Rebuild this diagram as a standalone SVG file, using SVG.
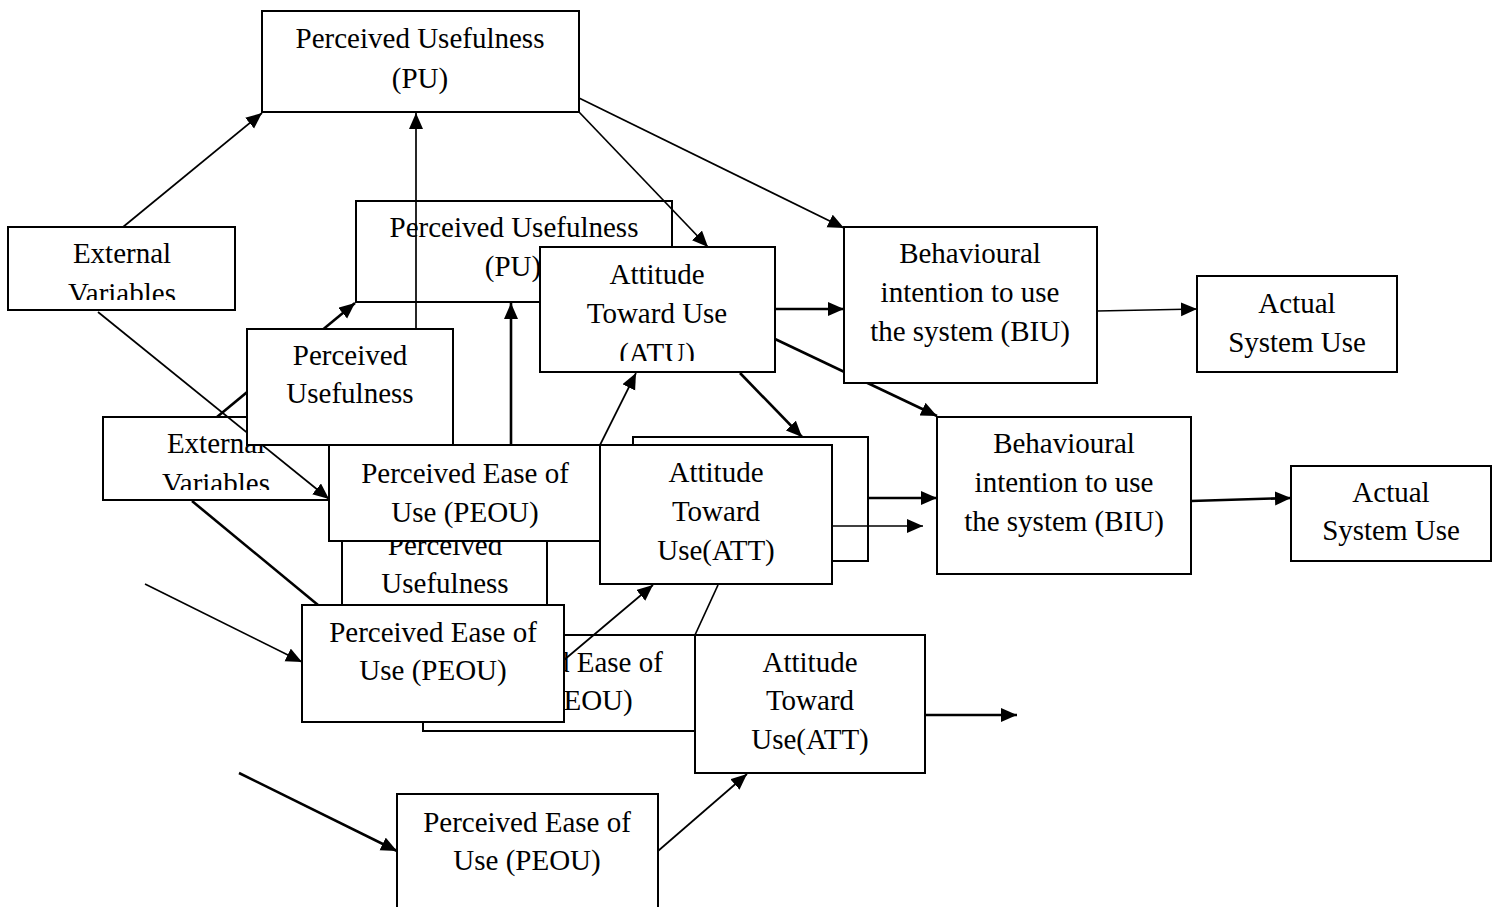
<svg xmlns="http://www.w3.org/2000/svg" width="1500" height="907" viewBox="0 0 1500 907">
<style>
.b{fill:#fff;stroke:#000;stroke-width:2}
.t{font-family:"Liberation Serif","Times New Roman",serif;font-size:29px;fill:#000;text-anchor:middle}
.c{fill:none;stroke:#000;stroke-width:1.7}
.k{fill:none;stroke:#000;stroke-width:2.6}
</style>
<defs>
<marker id="ah" markerUnits="userSpaceOnUse" markerWidth="17" markerHeight="15" refX="16" refY="7" orient="auto"><path d="M0,0 L16,7 L0,14 z" fill="#000"/></marker>
<clipPath id="cpEV1"><rect x="8" y="227" width="227" height="73"/></clipPath>
<clipPath id="cpEV2"><rect x="103" y="417" width="226" height="73"/></clipPath>
<clipPath id="cpATU"><rect x="540" y="247" width="235" height="114"/></clipPath>
<clipPath id="cpPE3"><rect x="564" y="635" width="131" height="96"/></clipPath>
<clipPath id="cpPU4"><rect x="342" y="541" width="205" height="64"/></clipPath>
</defs>
<rect width="1500" height="907" fill="#fff"/>

<g id="pu2"><rect class="b" x="356" y="201" width="316" height="101"/><text class="t" x="514" y="237">Perceived Usefulness</text><text class="t" x="513" y="276">(PU)</text></g>
<g id="ev2"><rect class="b" x="103" y="417" width="226" height="83"/><g clip-path="url(#cpEV2)"><text class="t" x="216" y="453">External</text><text class="t" x="216" y="493">Variables</text></g></g>
<g id="pu4"><rect class="b" x="342" y="519" width="205" height="86"/><g clip-path="url(#cpPU4)"><text class="t" x="445" y="555">Perceived</text><text class="t" x="445" y="593">Usefulness</text></g></g>
<g id="back"><rect class="b" x="633" y="437" width="235" height="124"/></g>
<g id="peou3"><rect class="b" x="423" y="635" width="272" height="96"/><g clip-path="url(#cpPE3)"><text class="t" x="559" y="672">Perceived Ease of</text><text class="t" x="559" y="710">Use (PEOU)</text></g></g>

<g id="connectors">
<line class="c" x1="123" y1="227" x2="262" y2="113" marker-end="url(#ah)"/>
<line class="c" x1="416" y1="329" x2="416" y2="113" marker-end="url(#ah)"/>
<line class="c" x1="579" y1="98" x2="844" y2="228" marker-end="url(#ah)"/>
<line class="c" x1="579" y1="112" x2="708" y2="247" marker-end="url(#ah)"/>
<line class="k" x1="217" y1="417" x2="355" y2="303" marker-end="url(#ah)"/>
<line class="c" x1="98" y1="312" x2="329" y2="499" marker-end="url(#ah)"/>
<line class="k" x1="511" y1="445" x2="511" y2="303" marker-end="url(#ah)"/>
<line class="c" x1="600" y1="445" x2="636" y2="373" marker-end="url(#ah)"/>
<line class="k" x1="775" y1="309" x2="844" y2="309" marker-end="url(#ah)"/>
<line class="k" x1="775" y1="339" x2="937" y2="416" marker-end="url(#ah)"/>
<line class="k" x1="740" y1="373" x2="802" y2="437" marker-end="url(#ah)"/>
<line class="c" x1="1097" y1="311" x2="1197" y2="309" marker-end="url(#ah)"/>
<line class="k" x1="868" y1="498" x2="937" y2="498" marker-end="url(#ah)"/>
<line class="c" x1="832" y1="526" x2="923" y2="526" marker-end="url(#ah)"/>
<line class="k" x1="1191" y1="501" x2="1291" y2="498" marker-end="url(#ah)"/>
<line class="k" x1="192" y1="501" x2="318" y2="605"/>
<line class="c" x1="145" y1="584" x2="302" y2="662" marker-end="url(#ah)"/>
<line class="c" x1="564" y1="660" x2="653" y2="585" marker-end="url(#ah)"/>
<line class="c" x1="695" y1="635" x2="718" y2="585"/>
<line class="k" x1="925" y1="715" x2="1017" y2="715" marker-end="url(#ah)"/>
<line class="k" x1="239" y1="773" x2="397" y2="851" marker-end="url(#ah)"/>
<line class="c" x1="658" y1="851" x2="747" y2="774" marker-end="url(#ah)"/>
</g>

<g id="pu1"><rect class="b" x="262" y="11" width="317" height="101"/><text class="t" x="420" y="48">Perceived Usefulness</text><text class="t" x="420" y="88">(PU)</text></g>
<g id="ev1"><rect class="b" x="8" y="227" width="227" height="83"/><g clip-path="url(#cpEV1)"><text class="t" x="122" y="263">External</text><text class="t" x="122" y="303">Variables</text></g></g>
<g id="atu"><rect class="b" x="540" y="247" width="235" height="125"/><g clip-path="url(#cpATU)"><text class="t" x="657" y="284">Attitude</text><text class="t" x="657" y="323">Toward Use</text><text class="t" x="657" y="363">(ATU)</text></g></g>
<g id="biu1"><rect class="b" x="844" y="227" width="253" height="156"/><text class="t" x="970" y="263">Behavioural</text><text class="t" x="970" y="302">intention to use</text><text class="t" x="970" y="341">the system (BIU)</text></g>
<g id="asu1"><rect class="b" x="1197" y="276" width="200" height="96"/><text class="t" x="1297" y="313">Actual</text><text class="t" x="1297" y="352">System Use</text></g>
<g id="pu3"><rect class="b" x="247" y="329" width="206" height="116"/><text class="t" x="350" y="365">Perceived</text><text class="t" x="350" y="403">Usefulness</text></g>
<g id="peou1"><rect class="b" x="329" y="445" width="272" height="96"/><text class="t" x="465" y="483">Perceived Ease of</text><text class="t" x="465" y="522">Use (PEOU)</text></g>
<g id="att1"><rect class="b" x="600" y="445" width="232" height="139"/><text class="t" x="716" y="482">Attitude</text><text class="t" x="716" y="521">Toward</text><text class="t" x="716" y="560">Use(ATT)</text></g>
<g id="biu2"><rect class="b" x="937" y="417" width="254" height="157"/><text class="t" x="1064" y="453">Behavioural</text><text class="t" x="1064" y="492">intention to use</text><text class="t" x="1064" y="531">the system (BIU)</text></g>
<g id="asu2"><rect class="b" x="1291" y="466" width="200" height="95"/><text class="t" x="1391" y="502">Actual</text><text class="t" x="1391" y="540">System Use</text></g>
<g id="peou2"><rect class="b" x="302" y="605" width="262" height="117"/><text class="t" x="433" y="642">Perceived Ease of</text><text class="t" x="433" y="680">Use (PEOU)</text></g>
<g id="att2"><rect class="b" x="695" y="635" width="230" height="138"/><text class="t" x="810" y="672">Attitude</text><text class="t" x="810" y="710">Toward</text><text class="t" x="810" y="749">Use(ATT)</text></g>
<g id="peou4"><rect class="b" x="397" y="794" width="261" height="130"/><text class="t" x="527" y="832">Perceived Ease of</text><text class="t" x="527" y="870">Use (PEOU)</text></g>
</svg>
